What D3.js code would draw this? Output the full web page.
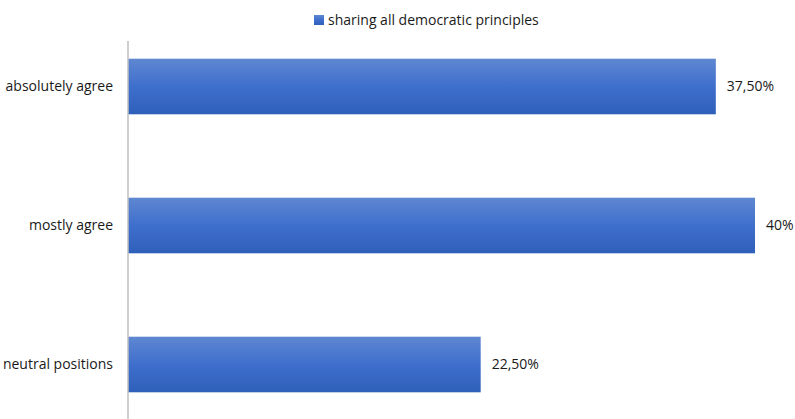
<!DOCTYPE html>
<html>
<head>
<meta charset="utf-8">
<script src="https://cdn.jsdelivr.net/npm/d3@7"></script>
<style>
  html, body { margin: 0; padding: 0; background: #fff; }
  svg { display: block; }
  text { font-family: "Open Sans", "Noto Sans", sans-serif; fill: #1a1a1a; }
</style>
</head>
<body>
<svg id="chart" width="795" height="419"></svg>
<script>
// Survey answers and their shares (percent)
const categories = ["absolutely agree", "mostly agree", "neutral positions"];
const shares = [37.5, 40, 22.5];
const valueLabels = ["37,50%", "40%", "22,50%"];
const seriesName = "sharing all democratic principles";

const W = 795, H = 419;
const FONT_SIZE = "14px";
const svg = d3.select("#chart");

const x = d3.scaleLinear().domain([0, 40]).range([128, 755]);
const y = d3.scaleBand().domain(categories).range([17, 434]).paddingInner(0.6).paddingOuter(0.3);

// vertical gradient for bar fill
const defs = svg.append("defs");
const grad = defs.append("linearGradient")
  .attr("id", "barFill").attr("x1", 0).attr("y1", 0).attr("x2", 0).attr("y2", 1);
grad.append("stop").attr("offset", "0%").attr("stop-color", "#5f87d1");
grad.append("stop").attr("offset", "50%").attr("stop-color", "#3f6fcd");
grad.append("stop").attr("offset", "100%").attr("stop-color", "#2e5fb9");

const data = categories.map((c, i) => ({ cat: c, v: shares[i], label: valueLabels[i] }));

// bars
svg.append("g").selectAll("rect").data(data).join("rect")
  .attr("x", x(0))
  .attr("y", d => y(d.cat))
  .attr("width", d => x(d.v) - x(0))
  .attr("height", y.bandwidth())
  .attr("fill", "url(#barFill)");

// category axis
const axis = svg.append("g")
  .attr("transform", `translate(${x(0)},0)`)
  .call(d3.axisLeft(y).tickSize(0).tickPadding(15));
axis.select(".domain").remove();
axis.selectAll("text")
  .style("font-family", "\"Open Sans\", \"Noto Sans\", sans-serif")
  .style("font-size", FONT_SIZE)
  .attr("fill", "#1a1a1a");
axis.append("line")
  .attr("x1", 0).attr("x2", 0)
  .attr("y1", 41).attr("y2", H)
  .attr("stroke", "#bfbfbf").attr("stroke-width", 1.5);

// value labels
svg.append("g").selectAll("text").data(data).join("text")
  .attr("x", d => x(d.v) + 11)
  .attr("y", d => y(d.cat) + y.bandwidth() / 2)
  .attr("dy", "0.35em")
  .style("font-size", FONT_SIZE)
  .text(d => d.label);

// legend
const legend = svg.append("g").attr("transform", "translate(314,15)");
legend.append("rect").attr("width", 10).attr("height", 10).attr("fill", "url(#barFill)");
legend.append("text")
  .attr("x", 14).attr("y", 5).attr("dy", "0.35em")
  .style("font-size", FONT_SIZE)
  .text(seriesName);
</script>
</body>
</html>
